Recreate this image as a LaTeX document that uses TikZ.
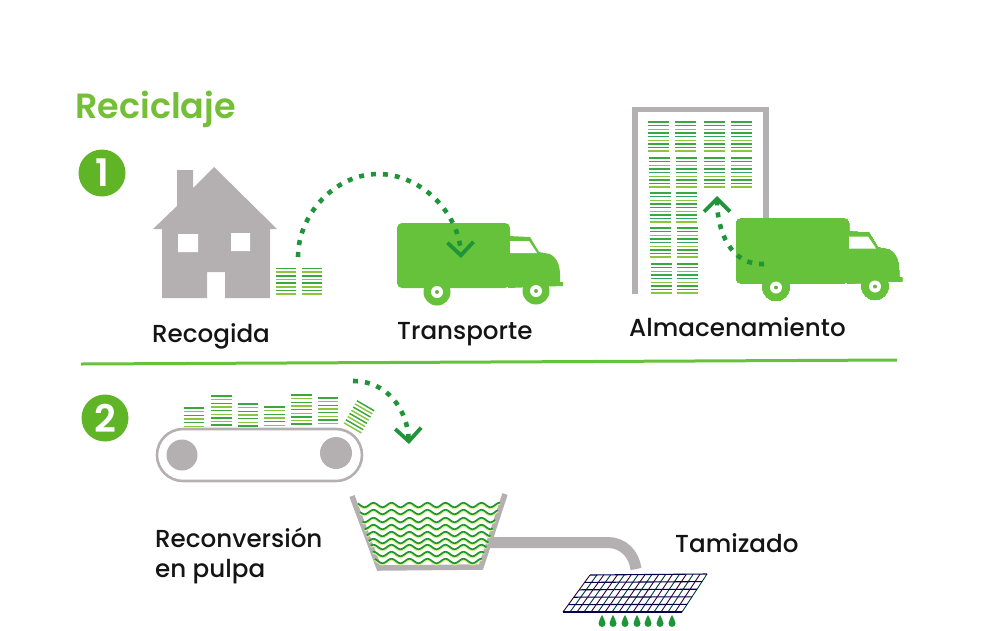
\documentclass[tikz,border=0pt]{standalone}
\usepackage{fontspec}
\setmainfont{Poppins Medium}[BoldFont={Poppins SemiBold}]
\usetikzlibrary{positioning,arrows.meta,calc}
\definecolor{recgreen}{HTML}{66C23A}
\definecolor{titlegreen}{HTML}{74BE38}
\definecolor{badgegreen}{HTML}{5FB526}
\definecolor{dotgreen}{HTML}{1F9438}
\definecolor{stackgreen}{HTML}{3AA83F}
\definecolor{stacklime}{HTML}{8CC63F}
\definecolor{stackteal}{HTML}{34A06A}
\definecolor{wavelime}{HTML}{DDF08A}
\definecolor{recgray}{HTML}{B4B0B2}
\tikzset{
  lab/.style={anchor=base west, font=\fontsize{24.6}{30}\selectfont, text=black!92, inner sep=0pt, align=left},
  titlelab/.style={anchor=base west, font=\fontsize{35}{36}\selectfont\bfseries, text=titlegreen, inner sep=0pt},
  badge/.style={circle, fill=badgegreen, text=white, minimum size=47pt, inner sep=0pt,
    font=\fontsize{38}{38}\selectfont\bfseries},
  flow/.style={-{Straight Barb[length=13pt, width=26pt, line width=3.8pt]}, line width=4.6pt, draw=dotgreen,
    dash pattern=on 5pt off 7pt},
  graywall/.style={draw=recgray, line width=5.5pt, miter limit=20},
  stk0/.style={draw=stackgreen, line width=1.5pt},
  stk1/.style={draw=stacklime, line width=1.5pt},
  stk2/.style={draw=stackteal, line width=1.5pt},
  sieverow/.style={draw=black!70!blue, line width=1.1pt},
  sievecol0/.style={draw=black!60!violet, line width=0.9pt},
  sievecol1/.style={draw=black!55!teal, line width=0.9pt},
  truck/.pic={
    \fill[recgreen, rounded corners=5pt] (0,0) rectangle (113,65);
    \fill[recgreen] (111,13) -- (133,14) -- (142,29) -- (153,31)
      .. controls (160,35) and (163,42) .. (163,52) -- (163,59) -- (166,59) -- (166,63) -- (111,65) -- cycle;
    \fill[white] (113,18) -- (132,18) -- (140,30) -- (113,30) -- cycle;
    \foreach \wx/\wy in {40/69, 139/68}{
      \fill[recgreen] (\wx,\wy) circle (13.5);
      \fill[white] (\wx,\wy) circle (6);
      \fill[recgreen!70!gray] (\wx,\wy) circle (2);
    }
  },
}
% x, top y, width, last line index
\newcommand{\paperstack}[4]{
  \foreach \i [evaluate=\i as \k using {int(mod(\i,2))}, evaluate=\i as \ly using {#2+\i*3.65}] in {0,...,#4}
    \draw[stk\k] (#1,\ly) -- ++(#3,0);
}
\newcommand{\binderstack}[3]{
  \foreach \i [evaluate=\i as \k using {int(mod(\i*2,3))}, evaluate=\i as \ly using {#2+\i*3.65}] in {0,...,8}
    \draw[stk\k] (#1,\ly) -- ++(#3,0);
}
\begin{document}
\begin{tikzpicture}[x=1pt, y=-1pt]
  \useasboundingbox (0,0) rectangle (987,630);

  \node[titlelab] (titulo) at (75,118) {Reciclaje};
  \node[badge] (uno) at (102,173) {1};
  \node[badge] (dos) at (105,418) {2};

  % recogida
  \fill[recgray] (214,167) -- (277,229) -- (270,229) -- (270,298) -- (225,298) -- (225,272)
    -- (207,272) -- (207,298) -- (162,298) -- (162,229) -- (153,229) -- (177,206)
    -- (177,170) -- (193,170) -- (193,188) -- cycle;
  \fill[white] (178,234) rectangle (198,252) (231,233) rectangle (250,251);
  \paperstack{276}{268.5}{20}{7}
  \paperstack{302}{268.5}{20}{7}
  \pic at (397,223) {truck};
  \coordinate (a1) at (298,257);
  \coordinate (a2) at (378,174);
  \coordinate (a3) at (461,258);
  \draw[flow] (a1) to[out=90, in=180, looseness=0.95] (a2) to[out=0, in=92, looseness=0.95] (a3);
  \node[lab] (recogida) at (152,342) {Recogida};
  \node[lab] (transporte) at (397,339) {Transporte};

  % almacenamiento
  \draw[graywall] (635,294) -- (635,109.5) -- (766,109.5) -- (766,225);
  \foreach \sx/\sy in {648/122, 675/122, 704/122, 731/122, 649/158, 676/158, 704/158, 731/158,
      650/193, 676/193, 650/228, 677/228, 651/264, 677/264}
    \binderstack{\sx}{\sy}{21}
  \pic at (736,218.5) {truck};
  \coordinate (b1) at (764,264);
  \coordinate (b2) at (717,196);
  \draw[flow] (b1) to[out=183, in=-90, looseness=1.05] (b2);
  \node[lab] (almacen) at (629,336) {Almacenamiento};

  \draw[draw=recgreen, line width=3pt] (81,364) -- (897,360);

  % cinta
  \draw[draw=recgray, line width=2.6pt, rounded corners=26pt] (157,429) rectangle (362,481);
  \fill[recgray] (182,455) circle (15.5) (336,453) circle (16);
  \paperstack{184}{408}{20}{5}
  \paperstack{211}{396}{21}{8}
  \paperstack{238}{404}{20}{6}
  \paperstack{264}{407}{21}{5}
  \paperstack{291}{395}{21}{8}
  \paperstack{318}{398}{20}{7}
  \begin{scope}[shift={(359,417)}, rotate=-30]
    \paperstack{-10}{-13}{20}{7}
  \end{scope}
  \coordinate (c1) at (353,381);
  \coordinate (c2) at (409,444);
  \draw[flow] (c1) to[out=0, in=93, looseness=1.05] (c2);

  % pulpa
  \draw[graywall] (352,496) -- (379,568) -- (481,567) -- (505,494);
  \coordinate (p1) at (488,542.5);
  \coordinate (p2) at (636,569);
  \draw[draw=recgray, line width=11pt] (p1) -- (608,542.5) to[out=0, in=97] (p2);
  \foreach \wy in {505,512,520,527,534,541,547,554,561}{
    \pgfmathsetmacro\wl{358+(\wy-505)*0.3}
    \pgfmathsetmacro\wr{500-(\wy-505)*0.32}
    \draw[wavelime, line width=2.4pt] plot[domain=\wl:\wr, samples=100] (\x,{\wy+1+2.2*sin(20*\x)});
    \draw[dotgreen, line width=1.7pt] plot[domain=\wl:\wr, samples=100] (\x,{\wy+2.2*sin(20*\x)});
  }
  \node[lab] (pulpa) at (155,577) {Reconversión\\en pulpa};

  % tamizado
  \coordinate (sa) at (590,575);
  \coordinate (sb) at (707,574);
  \coordinate (sc) at (563,612);
  \coordinate (sd) at (682,612);
  \foreach \i [evaluate=\i as \k using {int(mod(\i,2))}] in {0,...,17}
    \draw[sievecol\k] ($(sa)!\i/17!(sb)$) -- ($(sc)!\i/17!(sd)$);
  \foreach \i in {0,...,5}
    \draw[sieverow] ($(sa)!\i/5!(sc)$) -- ($(sb)!\i/5!(sd)$);
  \foreach \dx in {602,613,625,637,648,660,672}
    \fill[dotgreen] (\dx,615) .. controls (\dx+1,618) and (\dx+3.5,620) .. (\dx+3.5,623.5)
      .. controls (\dx+3.5,628) and (\dx-3.5,628) .. (\dx-3.5,623.5)
      .. controls (\dx-3.5,620) and (\dx-1,618) .. (\dx,615);
  \node[lab] (tamizado) at (675,552) {Tamizado};
\end{tikzpicture}
\end{document}
